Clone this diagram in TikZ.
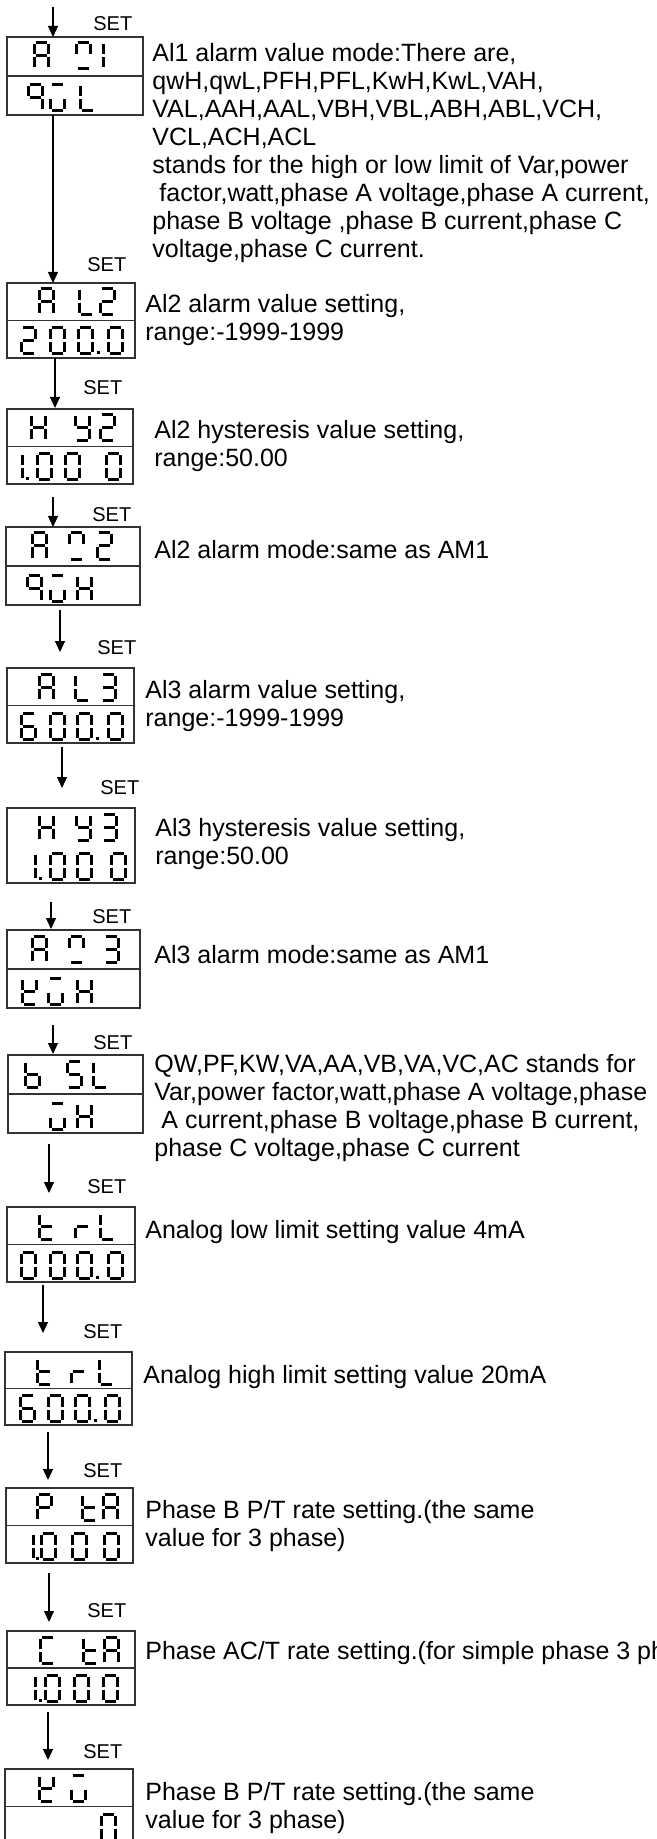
\documentclass[tikz,border=0pt]{standalone}
\usepackage{fontspec}
\setmainfont{Liberation Sans}
\usetikzlibrary{arrows.meta,fit}

% one row of seven-segment characters: y, list of x/char
\newcommand{\lcdrow}[2]{%
  \foreach \px/\ch in {#2}{\draw[lcdseg, shift={(\px,#1)}] (0,0) [chr \ch];}}

\tikzset{
  seg a/.style={insert path={(-5.5,-13) -- (5.5,-13)}},
  seg b/.style={insert path={(7,-11.5) -- (7,-1.5)}},
  seg c/.style={insert path={(7,1.5) -- (7,11.5)}},
  seg d/.style={insert path={(-5.5,13) -- (5.5,13)}},
  seg e/.style={insert path={(-7,1.5) -- (-7,11.5)}},
  seg f/.style={insert path={(-7,-11.5) -- (-7,-1.5)}},
  seg g/.style={insert path={(-5.5,0) -- (5.5,0)}},
  seg p/.style={insert path={(-1.5,12) -- (1.5,12)}},
  chr A/.style={seg a,seg b,seg c,seg e,seg f,seg g},
  chr M/.style={seg a,seg b,seg f,seg d},
  chr 1/.style={seg b,seg c},
  chr q/.style={seg a,seg b,seg c,seg f,seg g},
  chr w/.style={seg a,seg c,seg d,seg e},
  chr L/.style={seg d,seg e,seg f},
  chr 2/.style={seg a,seg b,seg g,seg e,seg d},
  chr 0/.style={seg a,seg b,seg c,seg d,seg e,seg f},
  chr H/.style={seg b,seg c,seg e,seg f,seg g},
  chr Y/.style={seg b,seg c,seg d,seg f,seg g},
  chr 3/.style={seg a,seg b,seg c,seg d,seg g},
  chr 6/.style={seg a,seg c,seg d,seg e,seg f,seg g},
  chr V/.style={seg b,seg d,seg e,seg f,seg g},
  chr b/.style={seg c,seg d,seg e,seg f,seg g},
  chr S/.style={seg a,seg c,seg d,seg f,seg g},
  chr t/.style={seg d,seg e,seg f,seg g},
  chr r/.style={seg e,seg g},
  chr P/.style={seg a,seg b,seg e,seg f,seg g},
  chr C/.style={seg a,seg d,seg e,seg f},
  chr p/.style={seg p}
}

\begin{document}
\begin{tikzpicture}[x=0.5pt, y=-0.5pt,
    lcdbox/.style={draw=black!80, line width=0.6pt, inner sep=0pt},
    lcdseg/.style={line width=1.5pt, line cap=butt},
    setlbl/.style={anchor=west, inner sep=0pt, font=\fontsize{10}{12}\selectfont},
    desc/.style={anchor=west, align=left, inner sep=0pt,
                 font=\fontsize{12.5}{14}\selectfont},
    arr/.style={-{Triangle[length=5.5pt,width=5pt]}, line width=0.55pt}
  ]
  \path[fill=white, use as bounding box] (0,0) rectangle (657,1839);
  \clip (0,0) rectangle (657,1839);

  % display boxes
  \node[lcdbox, fit={(7,37) (143,115)}] (b1) {};
  \node[lcdbox, fit={(7,283) (135,358)}] (b2) {};
  \node[lcdbox, fit={(7,409) (133,484)}] (b3) {};
  \node[lcdbox, fit={(6,527) (140,605)}] (b4) {};
  \node[lcdbox, fit={(7,668) (134,743)}] (b5) {};
  \node[lcdbox, fit={(7,808) (135,883)}] (b6) {};
  \node[lcdbox, fit={(7,930) (140,1008)}] (b7) {};
  \node[lcdbox, fit={(8,1055) (143,1133)}] (b8) {};
  \node[lcdbox, fit={(7,1207) (135,1282)}] (b9) {};
  \node[lcdbox, fit={(5,1352) (132,1425)}] (b10) {};
  \node[lcdbox, fit={(6,1488) (133,1563)}] (b11) {};
  \node[lcdbox, fit={(7,1631) (135,1705)}] (b12) {};
  \node[lcdbox, fit={(5,1769) (133,1844)}] (b13) {};
  \foreach \b in {b1,b2,b3,b4,b5,b7,b8,b9,b10,b11,b12,b13}
    \draw[draw=black!80, line width=0.6pt] (\b.west) -- (\b.east);

  % segment characters
  \lcdrow{56}{41/A, 83/M, 96/1}
  \lcdrow{98}{35/q, 57/w, 87/L}
  \lcdrow{302}{46/A, 86/L, 107/2}
  \lcdrow{341}{28/2, 57/0, 85/0, 98/p, 115/0}
  \lcdrow{428}{38/H, 82/Y, 107/2}
  \lcdrow{467}{15/1, 27/p, 44/0, 72/0, 113/0}
  \lcdrow{546}{39/A, 76/M, 104/2}
  \lcdrow{588}{34/q, 57/w, 84/H}
  \lcdrow{687}{46/A, 82/L, 108/3}
  \lcdrow{726}{28/6, 57/0, 84/0, 97/p, 115/0}
  \lcdrow{827}{46/H, 83/Y, 109/3}
  \lcdrow{866}{28/1, 40/p, 57/0, 84/0, 118/0}
  \lcdrow{949}{39/A, 76/M, 111/3}
  \lcdrow{991}{29/V, 55/w, 84/H}
  \lcdrow{1074}{32/b, 74/S, 100/L}
  \lcdrow{1116}{57/w, 84/H}
  \lcdrow{1226}{46/t, 82/r, 107/L}
  \lcdrow{1265}{28/0, 57/0, 84/0, 97/p, 115/0}
  \lcdrow{1371}{44/t, 78/r, 106/L}
  \lcdrow{1408}{27/6, 55/0, 82/0, 95/p, 112/0}
  \lcdrow{1507}{44/P, 89/t, 110/A}
  \lcdrow{1546}{26/1, 37/p, 48/0, 79/0, 111/0}
  \lcdrow{1650}{47/C, 90/t, 111/A}
  \lcdrow{1688}{28/1, 40/p, 52/0, 81/0, 110/0}
  \lcdrow{1788}{46/V, 78/w}
  \lcdrow{1827}{108/0}

  % SET arrows
  \foreach \i/\x/\ya/\yb in {0/53/7/37, 1/53/115/283, 2/55/358/408,
      3/53/497/527, 4/60/610/652, 5/62/747/788, 6/51/902/929,
      7/53/1025/1054, 8/49/1144/1193, 9/43/1285/1333, 10/48/1432/1480,
      11/49/1573/1622, 12/48/1712/1760}{
    \coordinate (from\i) at (\x,\ya);
    \coordinate (to\i) at (\x,\yb);
    \draw[arr] (from\i) -- (to\i);
  }
  \foreach \i/\x/\y in {0/93/24, 1/87/265, 2/83/388, 3/92/515, 4/97/648,
      5/100/788, 6/92/917, 7/93/1043, 8/87/1187, 9/83/1332, 10/83/1471,
      11/87/1611, 12/83/1752}
    \node[setlbl] (set\i) at (\x,\y) {SET};

  % descriptions
  \node[desc] (t1) at (152,153) {Al1 alarm value mode:There are,\\
    qwH,qwL,PFH,PFL,KwH,KwL,VAH,\\
    VAL,AAH,AAL,VBH,VBL,ABH,ABL,VCH,\\
    VCL,ACH,ACL\\
    stands for the high or low limit of Var,power\\
    \hspace*{0.28em}factor,watt,phase A voltage,phase A current,\\
    phase B voltage ,phase B current,phase C\\
    voltage,phase C current.};
  \node[desc] (t2) at (145,320) {Al2 alarm value setting,\\range:-1999-1999};
  \node[desc] (t3) at (154,446) {Al2 hysteresis value setting,\\range:50.00};
  \node[desc] (t4) at (154,550) {Al2 alarm mode:same as AM1};
  \node[desc] (t5) at (145,706) {Al3 alarm value setting,\\range:-1999-1999};
  \node[desc] (t6) at (155,844) {Al3 hysteresis value setting,\\range:50.00};
  \node[desc] (t7) at (154,955) {Al3 alarm mode:same as AM1};
  \node[desc] (t8) at (154,1108) {QW,PF,KW,VA,AA,VB,VA,VC,AC stands for\\
    Var,power factor,watt,phase A voltage,phase\\
    \hspace*{0.28em}A current,phase B voltage,phase B current,\\
    phase C voltage,phase C current};
  \node[desc] (t9) at (145,1232) {Analog low limit setting value 4mA};
  \node[desc] (t10) at (143,1377) {Analog high limit setting value 20mA};
  \node[desc] (t11) at (145,1526) {Phase B P/T rate setting.(the same\\value for 3 phase)};
  \node[desc] (t12) at (145,1653) {Phase AC/T rate setting.(for simple phase 3 ph};
  \node[desc] (t13) at (145,1808) {Phase B P/T rate setting.(the same\\value for 3 phase)};
\end{tikzpicture}
\end{document}
